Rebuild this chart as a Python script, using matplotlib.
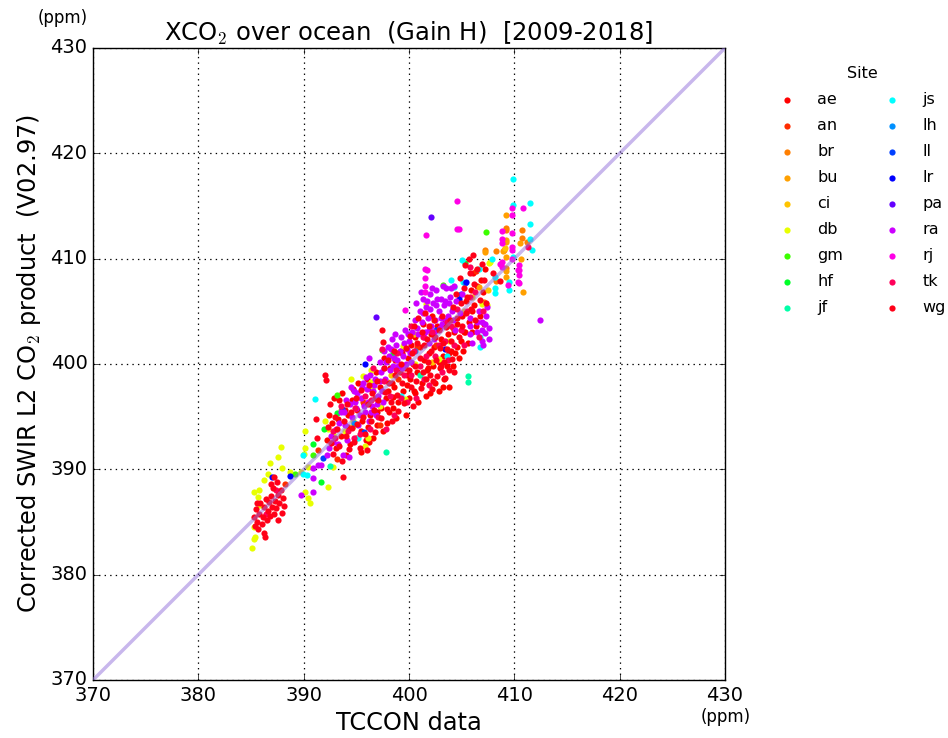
import matplotlib
matplotlib.use('Agg')
import matplotlib.pyplot as plt

# TCCON site codes and the colours used for each
sites = ['ae', 'an', 'br', 'bu', 'ci', 'db', 'gm', 'hf', 'jf',
         'js', 'lh', 'll', 'lr', 'pa', 'ra', 'rj', 'tk', 'wg']
site_colors = ['#ff0000', '#ff2d00', '#ff7f00', '#ffa000', '#ffc400', '#e8ff00',
               '#3cff00', '#00ff28', '#00ffa8', '#00ffff', '#0090ff', '#0040ff',
               '#0000ff', '#6400ff', '#cc00ff', '#ff00e6', '#ff005a', '#ff0018']

# (TCCON xco2, corrected SWIR L2 xco2) pairs per site, ppm
ae = [(398.5, 396.9), (399.8, 399.0), (400.6, 397.2), (401.8, 399.6), (402.8, 400.2),
      (403.8, 401.0), (404.6, 401.6), (399.2, 401.2), (397.0, 395.4), (395.4, 393.6),
      (394.2, 395.2), (393.4, 396.6), (396.2, 392.6), (402.2, 404.6), (403.2, 397.8),
      (405.2, 403.0), (406.0, 405.0),
      (392.2, 392.8), (392.4, 395.2), (392.7, 394.4), (392.9, 396.8), (393.1, 392.0),
      (393.3, 394.8), (393.5, 393.2), (393.6, 397.2), (393.9, 395.6), (394.0, 391.4),
      (394.2, 394.0), (394.4, 392.4), (394.6, 396.6), (394.7, 397.6),
      (395.0, 393.0), (395.1, 395.6), (395.2, 398.2), (395.4, 391.6), (395.5, 394.6),
      (395.7, 396.2), (395.9, 392.8), (396.0, 398.6), (396.1, 394.0), (396.3, 395.2),
      (396.4, 397.6), (396.6, 393.0), (396.8, 396.8), (396.9, 399.2), (397.0, 394.2),
      (397.2, 397.8), (397.3, 395.8), (397.5, 393.6), (397.6, 400.6), (397.8, 396.8),
      (397.9, 394.4),
      (398.0, 397.4), (398.1, 395.4), (398.2, 399.6), (398.4, 398.2), (398.5, 395.8),
      (398.6, 397.8), (398.7, 400.4), (398.8, 394.9), (399.0, 396.4), (399.1, 399.2),
      (399.3, 401.0), (399.4, 397.4), (399.6, 399.6), (399.7, 395.2), (399.8, 398.0),
      (399.9, 400.6), (400.0, 396.8),
      (400.1, 398.6), (400.2, 401.8), (400.4, 400.0), (400.5, 397.4), (400.6, 402.6),
      (400.8, 399.2), (400.9, 396.4), (401.0, 401.6), (401.2, 398.2), (401.3, 403.8),
      (401.4, 400.4), (401.6, 397.0), (401.7, 399.4), (401.9, 401.0), (402.0, 397.2),
      (402.1, 402.8), (402.3, 399.8), (402.4, 401.6), (402.5, 398.2), (402.7, 403.6),
      (402.8, 397.4), (402.9, 399.6), (403.0, 402.4), (403.2, 400.8), (403.3, 398.6),
      (403.4, 404.0), (403.6, 399.8), (403.7, 402.8), (403.8, 397.8), (404.0, 401.2),
      (404.2, 399.8), (404.3, 403.0), (404.4, 401.0),
      (404.6, 403.8), (404.7, 400.6), (404.9, 402.2), (405.0, 404.6), (405.1, 401.2),
      (405.3, 403.0), (405.4, 406.0), (405.6, 402.0), (405.7, 404.0), (405.9, 407.0),
      (406.0, 403.0), (406.1, 408.6), (406.2, 405.6), (406.4, 403.6), (406.5, 407.4),
      (406.7, 404.6), (406.8, 408.0), (407.0, 406.8), (407.1, 403.8), (407.2, 409.0)]
an = [(399.0, 398.6), (402.6, 401.8), (395.6, 396.4), (393.2, 391.0), (404.2, 403.4),
      (406.4, 408.8), (388.2, 388.6), (391.4, 391.8), (400.8, 401.6), (397.2, 394.2)]
br = [(407.2, 410.8), (408.3, 410.7), (409.2, 412.9), (409.2, 412.7), (410.7, 412.7),
      (410.7, 412.0), (411.2, 411.6), (409.2, 409.1), (409.0, 410.8), (407.1, 405.9),
      (408.3, 407.9)]
bu = [(409.2, 414.1), (409.2, 411.8), (409.2, 411.6), (409.2, 410.2), (409.2, 408.8),
      (409.2, 408.3), (410.8, 406.8), (410.5, 411.5), (406.6, 407.3), (408.9, 410.7),
      (407.2, 410.6), (410.6, 410.0)]
ci = [(400.5, 402.8), (407.5, 407.0), (405.2, 405.0), (398.3, 399.0), (393.5, 395.6),
      (402.2, 400.2), (406.0, 406.4), (409.1, 411.0)]
db = [(387.85, 392.1), (387.6, 391.2), (386.6, 389.6), (385.8, 388.0), (385.3, 387.8),
      (385.7, 387.4), (385.9, 386.6), (385.3, 384.5), (385.4, 383.6), (385.3, 383.4),
      (385.1, 382.5), (387.9, 390.1), (388.7, 389.7), (390.1, 392.0), (390.1, 387.8),
      (390.4, 387.3), (390.6, 386.8), (392.3, 388.3), (389.7, 389.7), (394.5, 398.6),
      (395.6, 398.9), (396.4, 399.4), (396.4, 398.3), (396.6, 397.8), (394.7, 394.6),
      (394.7, 394.1), (393.9, 393.6), (392.8, 393.4), (392.3, 393.8), (392.0, 394.6),
      (390.1, 393.6), (390.0, 391.5), (390.4, 390.2), (392.8, 390.2), (398.0, 398.3),
      (399.4, 401.7), (401.6, 405.7), (406.9, 405.7), (407.4, 405.6), (407.7, 409.7),
      (407.6, 409.6), (399.6, 396.7), (396.1, 393.0), (395.8, 392.2), (402.8, 400.5),
      (403.8, 402.2), (400.6, 400.0), (397.2, 396.0), (386.2, 389.0), (386.8, 390.6)]
gm = [(389.2, 389.6), (390.9, 391.4), (393.2, 397.1), (397.4, 401.3), (403.2, 407.5),
      (407.3, 412.5)]
hf = [(391.6, 388.8), (393.2, 395.3), (391.9, 393.8), (390.9, 392.4), (405.3, 409.6),
      (398.5, 401.0)]
jf = [(397.8, 391.6), (405.6, 398.9), (405.6, 398.3), (392.5, 390.3), (401.0, 399.0)]
js = [(389.9, 389.6), (389.9, 391.4), (390.3, 389.5), (391.1, 396.7), (406.7, 401.6),
      (405.1, 407.8), (404.0, 408.0), (404.3, 407.3), (409.9, 417.6), (409.9, 415.1),
      (411.5, 415.3), (411.5, 413.3), (411.5, 411.9), (411.7, 410.8), (407.9, 410.0),
      (409.9, 410.2), (408.2, 408.3), (408.2, 407.2), (408.2, 406.7), (409.5, 407.8),
      (409.5, 407.0), (405.0, 409.9), (406.6, 409.0), (406.7, 402.6), (403.6, 400.8),
      (399.2, 397.0), (395.2, 393.0)]
lh = [(405.3, 407.7), (394.8, 394.4), (400.6, 401.2)]
ll = [(393.6, 395.7), (395.7, 393.5), (391.8, 391.1), (404.9, 406.6), (402.6, 403.2)]
lr = [(387.0, 389.3), (388.7, 389.4), (404.7, 406.2), (405.4, 407.8), (403.4, 401.4),
      (404.2, 405.2), (395.8, 400.0)]
pa = [(396.9, 404.5), (402.1, 414.0)]
ra = [(400.8, 403.4), (401.0, 405.0), (401.2, 404.0), (401.3, 406.2), (401.5, 403.0),
      (401.6, 405.4), (401.8, 404.4), (402.0, 406.6), (402.1, 403.6), (402.3, 405.8),
      (402.5, 404.2), (402.6, 407.0), (402.8, 405.0), (403.0, 406.2), (403.1, 403.8),
      (403.3, 405.6), (403.5, 407.2), (403.7, 404.6), (403.9, 406.4), (404.1, 405.0),
      (404.3, 407.4), (404.4, 403.2), (402.4, 402.4), (401.9, 402.0),
      (400.6, 404.2), (400.7, 405.8), (400.9, 402.8), (401.1, 406.8), (401.3, 404.8),
      (401.4, 402.6), (401.7, 406.0), (401.9, 403.2), (402.0, 405.2), (402.2, 407.2),
      (402.4, 403.0), (402.6, 405.6), (402.7, 406.2), (402.9, 403.4), (403.0, 404.4),
      (403.2, 407.4), (403.4, 406.0), (403.5, 404.2), (403.8, 405.8), (404.0, 407.2),
      (404.2, 404.2), (404.5, 406.0), (404.8, 404.8), (405.0, 406.6),
      (397.8, 400.2), (398.0, 401.6), (398.2, 399.4), (398.4, 402.4), (398.6, 400.6),
      (398.8, 401.8), (399.0, 399.8), (399.2, 402.6), (399.4, 400.8), (399.6, 403.2),
      (399.8, 401.4), (400.0, 402.2), (400.2, 400.2),
      (398.1, 400.8), (398.3, 401.4), (398.5, 399.8), (398.7, 402.8), (398.9, 400.4),
      (399.1, 401.2), (399.3, 399.6), (399.5, 402.0), (399.7, 400.0), (399.9, 402.8),
      (400.1, 401.0), (400.3, 403.0), (397.6, 401.2), (397.2, 400.2),
      (394.4, 396.2), (394.6, 395.0), (394.8, 397.4), (395.0, 395.8), (395.2, 394.2),
      (395.4, 396.8), (395.6, 398.2), (395.8, 395.4), (396.0, 397.6), (396.2, 394.6),
      (396.3, 399.0), (396.5, 396.0), (396.7, 398.0), (396.9, 395.2), (397.1, 397.0),
      (397.3, 399.2), (397.5, 396.4), (397.7, 398.6),
      (394.5, 397.8), (394.9, 396.4), (395.1, 397.2), (395.3, 395.2), (395.5, 397.8),
      (395.7, 396.0), (395.9, 398.8), (396.1, 396.4), (396.4, 395.4), (396.6, 397.4),
      (396.8, 398.6), (397.0, 396.2), (397.2, 398.4), (397.4, 397.4), (397.6, 399.6),
      (393.8, 395.4), (394.0, 396.6), (393.4, 394.4), (392.8, 392.6), (392.4, 392.0),
      (393.1, 393.8), (393.3, 392.4), (393.5, 395.4), (393.7, 391.4), (393.9, 394.2),
      (394.1, 392.8), (394.3, 391.2), (392.6, 393.2), (392.2, 391.4), (391.6, 390.4),
      (406.5, 403.0), (406.5, 404.0), (406.6, 405.0), (407.2, 402.9), (407.2, 403.8),
      (407.3, 404.6), (407.4, 405.4), (407.6, 403.4), (407.6, 402.4), (406.0, 402.0),
      (405.8, 402.8), (405.8, 403.6), (405.8, 404.4), (406.9, 402.2), (406.9, 403.2),
      (406.9, 404.0), (407.0, 401.8),
      (412.4, 404.2), (390.9, 390.1), (390.9, 389.2), (389.7, 387.6), (390.9, 387.8),
      (391.4, 390.4), (396.2, 400.6)]
rj = [(409.8, 414.8), (409.8, 414.1), (410.8, 414.8), (408.8, 412.6), (408.8, 411.9),
      (408.8, 411.5), (409.8, 412.4), (409.8, 411.1), (409.8, 410.8), (409.8, 410.0),
      (408.8, 409.7), (408.8, 409.2), (410.4, 409.4), (410.4, 408.9), (410.4, 408.4),
      (410.4, 407.7), (409.4, 407.5), (401.5, 409.0), (401.5, 408.2), (401.5, 407.4),
      (401.5, 406.8), (401.7, 408.9), (401.6, 412.2), (404.6, 412.8), (404.6, 415.5),
      (404.7, 412.8), (408.6, 409.5), (410.3, 408.9), (410.3, 407.8), (399.6, 405.1)]
tk = [(411.3, 411.1), (400.2, 403.6), (396.4, 396.6), (392.8, 393.6), (398.8, 399.4),
      (403.6, 404.0), (405.8, 406.4), (394.8, 393.0), (401.4, 398.6), (397.6, 398.4),
      (386.4, 385.8), (387.4, 388.0),
      (393.0, 393.0), (393.5, 396.0), (394.2, 393.6), (394.9, 395.8), (395.3, 393.4),
      (395.8, 397.0), (396.3, 393.8), (396.6, 399.6), (397.1, 395.0), (397.4, 401.4),
      (397.8, 393.8), (398.2, 397.0), (398.6, 395.2), (398.9, 401.0), (399.2, 396.8),
      (399.5, 399.0), (399.8, 396.4), (400.2, 399.0), (400.5, 401.2), (400.7, 396.8),
      (401.0, 399.8), (401.3, 402.6), (401.6, 400.8), (401.9, 398.0), (402.2, 403.0),
      (402.5, 400.8), (402.8, 401.8), (403.1, 399.2), (403.4, 402.2), (403.7, 400.4),
      (404.0, 403.6), (404.3, 401.8), (404.6, 405.2), (404.9, 403.2), (405.2, 401.8),
      (405.5, 405.0), (405.8, 409.2), (406.3, 406.8), (406.6, 402.6), (407.0, 405.0)]
wg = [(385.3, 385.5), (385.4, 384.6), (385.5, 386.2), (385.6, 385.0), (385.7, 384.3),
      (385.8, 385.8), (385.9, 386.8), (386.0, 384.8), (386.1, 385.5), (385.6, 386.8),
      (386.2, 384.0), (386.3, 383.6), (386.5, 385.2), (386.6, 386.0), (386.7, 386.9),
      (386.8, 385.6), (386.9, 387.5), (387.0, 386.4), (387.1, 388.2), (387.2, 385.8),
      (387.3, 387.0), (387.4, 386.3), (387.5, 388.8), (387.6, 387.6), (387.7, 386.8),
      (387.8, 388.0), (387.9, 385.9), (388.0, 387.3), (387.2, 389.3), (386.9, 388.6),
      (386.4, 387.2), (387.6, 385.2), (386.2, 386.4), (388.1, 386.5),
      (391.2, 394.8), (391.3, 393.0), (392.0, 399.0), (392.1, 398.5), (392.5, 396.2),
      (392.3, 394.0), (392.6, 392.5), (392.8, 391.5), (393.0, 395.0), (393.2, 393.8),
      (393.4, 392.2), (393.6, 390.8), (393.7, 389.3), (393.8, 394.6), (394.0, 393.2),
      (394.1, 396.2), (394.3, 391.9), (394.5, 395.4), (394.6, 393.9), (394.8, 392.6),
      (395.0, 396.8), (395.1, 394.3), (395.3, 392.0), (395.4, 397.5), (395.6, 395.0),
      (395.8, 393.4), (396.0, 391.8),
      (396.1, 396.2), (396.2, 398.0), (396.4, 394.6), (396.5, 397.2), (396.7, 395.6),
      (396.8, 393.5), (397.0, 398.4), (397.1, 396.6), (397.3, 394.9), (397.4, 403.2),
      (397.5, 402.1), (397.6, 399.6), (397.7, 397.3), (397.9, 395.7), (398.0, 400.4),
      (398.1, 398.2), (398.3, 396.4), (398.4, 394.6), (398.6, 401.2), (398.7, 399.0),
      (398.9, 397.1), (399.0, 395.5), (399.2, 400.0), (399.3, 398.2), (399.5, 396.3),
      (399.7, 401.5),
      (400.0, 399.4), (400.1, 402.7), (400.2, 397.8), (400.3, 401.0), (400.4, 396.0),
      (400.5, 403.6), (400.6, 399.8), (400.7, 398.4), (400.8, 402.0), (400.9, 404.4),
      (401.0, 400.6), (401.1, 397.7), (401.2, 403.0), (401.3, 399.2), (401.4, 401.8),
      (401.5, 404.8), (401.6, 398.6), (401.7, 402.4), (401.8, 400.2), (401.9, 403.6),
      (402.0, 399.0), (402.1, 401.2), (402.2, 397.6), (402.3, 398.4), (402.4, 404.2),
      (402.5, 402.6), (402.6, 400.4), (402.7, 398.9), (402.8, 403.2), (402.9, 401.5),
      (403.0, 399.8), (403.1, 404.6), (403.2, 402.0), (403.3, 400.2), (403.4, 398.7),
      (403.5, 403.5), (403.6, 401.4), (403.8, 399.4), (403.9, 404.2), (404.0, 402.2),
      (404.1, 400.5), (404.2, 405.4), (404.3, 399.2),
      (404.5, 406.6), (404.6, 404.4), (404.7, 402.6), (404.8, 408.2), (404.9, 405.8),
      (405.0, 403.6), (405.2, 407.2), (405.3, 409.4), (405.4, 404.8), (405.5, 406.4),
      (405.7, 410.0), (405.8, 408.6), (405.9, 405.2), (406.1, 410.3), (406.2, 407.6),
      (406.3, 404.2), (406.5, 409.0), (406.7, 406.1), (406.9, 409.5), (407.1, 408.0),
      (407.3, 405.8), (408.0, 408.6), (408.6, 407.9)]

site_points = [ae, an, br, bu, ci, db, gm, hf, jf, js, lh, ll, lr, pa, ra, rj, tk, wg]

plt.style.use('classic')
fig = plt.figure(figsize=(9.48, 7.38), dpi=100, facecolor='white')
ax = fig.add_axes([0.0981, 0.0786, 0.6667, 0.8564])

handles = []
for name, color, pts in zip(sites, site_colors, site_points):
    xs = [p[0] for p in pts]
    ys = [p[1] for p in pts]
    h = ax.scatter(xs, ys, s=20, c=color, linewidths=0, label=name, zorder=2)
    handles.append(h)

# 1:1 reference line
ax.plot([370, 430], [370, 430], color='#9370db', alpha=0.5, lw=2.5, zorder=3)

ax.set_xlim(370, 430)
ax.set_ylim(370, 430)
ax.set_xticks(range(370, 431, 10))
ax.set_yticks(range(370, 431, 10))
ax.tick_params(labelsize=14)
ax.grid(True, linestyle=':', color='k', lw=0.9)
ax.set_axisbelow(True)

ax.set_title('XCO$_2$ over ocean  (Gain H)  [2009-2018]', fontsize=17.5)
ax.set_xlabel('TCCON data', fontsize=17.3)
ax.set_ylabel('Corrected SWIR L2 CO$_2$ product  (V02.97)', fontsize=17.3)
fig.text(0.066, 0.975, '(ppm)', ha='center', va='center', fontsize=12)
fig.text(0.765, 0.028, '(ppm)', ha='center', va='center', fontsize=12)

fig.legend(handles=handles, loc='upper left', bbox_to_anchor=(0.8066, 0.93),
           ncol=2, frameon=False, scatterpoints=1, title='Site', fontsize=11.5,
           title_fontsize=11.5, handlelength=1.0, handletextpad=1.4,
           columnspacing=2.55, labelspacing=0.69)

fig.savefig('out.png', dpi=100, facecolor='white')
